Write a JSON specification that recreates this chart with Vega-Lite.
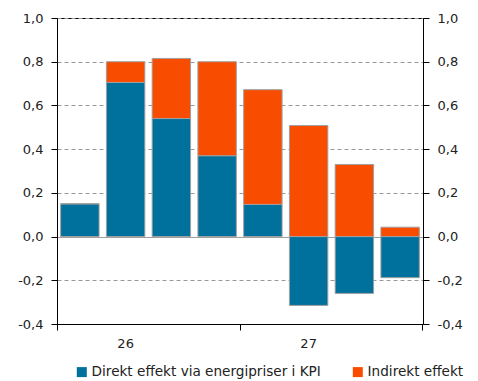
{
  "$schema": "https://vega.github.io/schema/vega-lite/v6.json",
  "width": 366,
  "height": 306,
  "autosize": {"type": "none"},
  "padding": {"left": 57, "top": 18, "right": 55, "bottom": 57},
  "config": {
    "font": "DejaVu Sans",
    "view": {"stroke": "black", "strokeWidth": 1},
    "axis": {"labelFont": "DejaVu Sans", "labelFontSize": 13, "labelColor": "#222222", "domainColor": "black", "tickColor": "black", "tickSize": 6, "labelPadding": 8},
    "legend": {"labelFont": "DejaVu Sans", "labelFontSize": 13.6, "labelColor": "#222222", "labelLimit": 400}
  },
  "data": {
    "values": [
      {"q": "26K1", "s": "Direkt effekt via energipriser i KPI", "v": 0.15},
      {"q": "26K1", "s": "Indirekt effekt", "v": 0},
      {"q": "26K2", "s": "Direkt effekt via energipriser i KPI", "v": 0.705},
      {"q": "26K2", "s": "Indirekt effekt", "v": 0.095},
      {"q": "26K3", "s": "Direkt effekt via energipriser i KPI", "v": 0.54},
      {"q": "26K3", "s": "Indirekt effekt", "v": 0.275},
      {"q": "26K4", "s": "Direkt effekt via energipriser i KPI", "v": 0.37},
      {"q": "26K4", "s": "Indirekt effekt", "v": 0.43},
      {"q": "27K1", "s": "Direkt effekt via energipriser i KPI", "v": 0.147},
      {"q": "27K1", "s": "Indirekt effekt", "v": 0.525},
      {"q": "27K2", "s": "Direkt effekt via energipriser i KPI", "v": -0.315},
      {"q": "27K2", "s": "Indirekt effekt", "v": 0.508},
      {"q": "27K3", "s": "Direkt effekt via energipriser i KPI", "v": -0.26},
      {"q": "27K3", "s": "Indirekt effekt", "v": 0.33},
      {"q": "27K4", "s": "Direkt effekt via energipriser i KPI", "v": -0.188},
      {"q": "27K4", "s": "Indirekt effekt", "v": 0.043}
    ]
  },
  "layer": [
    {
      "mark": {"type": "bar", "stroke": "#a0a0a0", "strokeWidth": 1},
      "encoding": {
        "x": {"field": "q", "type": "ordinal", "sort": null, "title": null,
          "scale": {"paddingInner": 0.16, "paddingOuter": 0.08},
          "axis": {"orient": "bottom", "values": ["26K2", "27K2"], "ticks": false, "labelAngle": 0, "labelPadding": 13,
            "labelExpr": "slice(datum.value, 0, 2)"}},
        "y": {"field": "v", "type": "quantitative", "stack": "zero", "title": null,
          "scale": {"domain": [-0.4, 1.0], "nice": false, "zero": false},
          "axis": {"orient": "left", "values": [-0.4, -0.2, 0, 0.2, 0.4, 0.6, 0.8, 1.0],
            "labelExpr": "replace(replace(format(datum.value, '.1f'), '.', ','), '−', '-')",
            "grid": true,
            "gridColor": {"condition": {"test": "datum.value === 0", "value": "#a0a0a0"}, "value": "#999999"},
            "gridDash": {"condition": {"test": "datum.value === 0", "value": []}, "value": [4, 3]},
            "gridWidth": 1}},
        "color": {"field": "s", "type": "nominal",
          "scale": {"domain": ["Direkt effekt via energipriser i KPI", "Indirekt effekt"], "range": ["#00709C", "#F84C00"]},
          "legend": {"orient": "none", "legendX": 18, "legendY": 347, "direction": "horizontal", "title": null, "symbolType": "square", "symbolSize": 100, "symbolStrokeWidth": 0, "columnPadding": 30, "labelOffset": 3}},
        "order": {"field": "s", "sort": "ascending"}
      }
    },
    {
      "mark": {"type": "bar", "opacity": 0},
      "encoding": {
        "x": {"field": "q", "type": "ordinal", "sort": null, "title": null,
          "axis": {"orient": "bottom", "values": ["26K1", "27K1"], "bandPosition": -0.095, "labels": false, "domain": false}},
        "y": {"field": "v", "type": "quantitative", "stack": "zero", "title": null,
          "axis": {"orient": "right", "values": [-0.4, -0.2, 0, 0.2, 0.4, 0.6, 0.8, 1.0], "grid": false,
            "labelExpr": "replace(replace(format(datum.value, '.1f'), '.', ','), '−', '-')"}}
      }
    },
    {
      "mark": {"type": "bar", "opacity": 0},
      "encoding": {
        "x": {"field": "q", "type": "ordinal", "sort": null, "title": null,
          "axis": {"orient": "bottom", "values": ["27K4"], "bandPosition": 1.095, "labels": false, "domain": false}},
        "y": {"field": "v", "type": "quantitative", "stack": "zero", "title": null, "axis": null}
      }
    }
  ],
  "resolve": {"axis": {"x": "independent", "y": "independent"}}
}
